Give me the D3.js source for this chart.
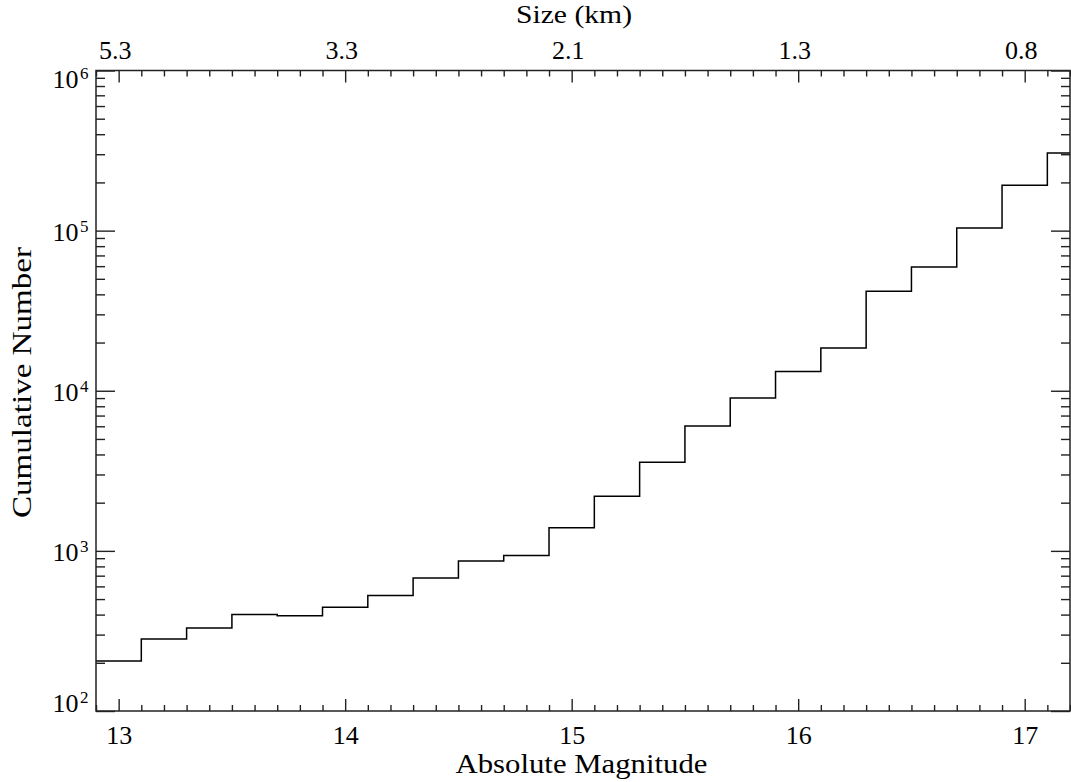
<!DOCTYPE html>
<html>
<head>
<meta charset="utf-8">
<script src="https://cdn.jsdelivr.net/npm/d3@7"></script>
<style>
  body { margin: 0; background: #fff; }
  svg text { font-family: "Liberation Serif", Times, "Times New Roman", serif; fill: #000; }
</style>
</head>
<body>
<div id="container"></div>
<script>
// absolute magnitude bins (centres) and cumulative counts
const magnitudes = [13.0, 13.2, 13.4, 13.6, 13.8, 14.0, 14.2, 14.4, 14.6, 14.8, 15.0,
                    15.2, 15.4, 15.6, 15.8, 16.0, 16.2, 16.4, 16.6, 16.8, 17.0, 17.2];
const counts = [205, 282, 330, 401, 393, 444, 527, 676, 863, 937, 1393,
                2196, 3579, 6031, 9020, 13180, 18500, 41780, 59240, 103800, 191700, 304800];

const magTicks = [13, 14, 15, 16, 17];
const sizeLabels = ["5.3", "3.3", "2.1", "1.3", "0.8"];
const decades = [1e2, 1e3, 1e4, 1e5, 1e6];

const width = 1071;
const height = 782;
const margin = ({ top: 70.5, right: 1, bottom: 71, left: 96 });
const binHalf = 0.1;
const serif = '"Liberation Serif", Times, "Times New Roman", serif';

let x = d3.scaleLinear()
    .domain([12.9, 17.2])
    .range([margin.left, width - margin.right]);

let y = d3.scaleLog()
    .domain([1e2, 1e6])
    .range([height - margin.bottom, margin.top]);

let minorX = d3.range(129, 173).map(d => d / 10).filter(d => !magTicks.includes(d));
let minorY = y.ticks().filter(d => !decades.includes(d));

let svg = d3.select("#container").append("svg")
    .attr("width", width)
    .attr("height", height)
    .style("font-family", serif);

svg.append("defs").append("clipPath").attr("id", "clip")
    .append("rect")
    .attr("x", margin.left).attr("y", margin.top)
    .attr("width", x.range()[1] - margin.left)
    .attr("height", y.range()[0] - margin.top);

// histogram-style steps
let values = magnitudes.map((m, i) => ({ x: m, y: counts[i] }));
let stepped = [{ x: magnitudes[0] - binHalf, y: counts[0] }]
    .concat(values)
    .concat([{ x: magnitudes[magnitudes.length - 1] + binHalf, y: counts[counts.length - 1] }]);

let line = d3.line()
    .curve(d3.curveStep)
    .x(d => x(d.x))
    .y(d => y(d.y));

svg.append("path")
    .attr("clip-path", "url(#clip)")
    .attr("fill", "none")
    .attr("stroke", "#000")
    .attr("stroke-width", 1.5)
    .attr("d", line(stepped));

let styleAxis = g => {
    g.attr("font-family", null);
    g.select(".domain").remove();
    g.selectAll(".tick line").attr("stroke", "#222").attr("stroke-width", 1.4);
    g.selectAll(".tick text").attr("font-size", 26).style("font-family", serif);
};

let yB = y.range()[0];
let yT = y.range()[1];
let xL = x.range()[0];
let xR = x.range()[1];

// bottom axis
svg.append("g")
    .attr("transform", `translate(0,${yB})`)
    .call(d3.axisBottom(x).tickValues(magTicks).tickFormat(d3.format("d"))
        .tickSizeInner(-12).tickSizeOuter(0).tickPadding(15))
    .call(styleAxis);
svg.append("g")
    .attr("transform", `translate(0,${yB})`)
    .call(d3.axisBottom(x).tickValues(minorX).tickFormat("")
        .tickSizeInner(-6).tickSizeOuter(0))
    .call(styleAxis);

// top axis (size in km)
svg.append("g")
    .attr("transform", `translate(0,${yT})`)
    .call(d3.axisTop(x).tickValues(magTicks).tickFormat((d, i) => sizeLabels[i])
        .tickSizeInner(-12).tickSizeOuter(0).tickPadding(12))
    .call(styleAxis)
    .call(g => g.selectAll(".tick text").attr("dx", -4));
svg.append("g")
    .attr("transform", `translate(0,${yT})`)
    .call(d3.axisTop(x).tickValues(minorX).tickFormat("")
        .tickSizeInner(-6).tickSizeOuter(0))
    .call(styleAxis);

// left axis
let leftAxis = svg.append("g")
    .attr("transform", `translate(${xL},0)`)
    .call(d3.axisLeft(y).tickValues(decades).tickFormat("")
        .tickSizeInner(-19).tickSizeOuter(0))
    .call(styleAxis);
svg.append("g")
    .attr("transform", `translate(${xL},0)`)
    .call(d3.axisLeft(y).tickValues(minorY).tickFormat("")
        .tickSizeInner(-9).tickSizeOuter(0))
    .call(styleAxis);

leftAxis.selectAll(".tick").each(function (d) {
    let e = Math.round(Math.log10(d));
    let base = 9.5;
    if (e === 6) base = 16.5;
    if (e === 2) base = 0.7;
    let g = d3.select(this);
    g.append("text")
        .attr("x", -17.5)
        .attr("y", base)
        .attr("text-anchor", "end")
        .attr("font-size", 26)
        .style("font-family", serif)
        .text("10");
    g.append("text")
        .attr("x", -16)
        .attr("y", base - 9)
        .attr("text-anchor", "start")
        .attr("font-size", 17)
        .style("font-family", serif)
        .text(e);
});

// right axis
svg.append("g")
    .attr("transform", `translate(${xR},0)`)
    .call(d3.axisRight(y).tickValues(decades).tickFormat("")
        .tickSizeInner(-19).tickSizeOuter(0))
    .call(styleAxis);
svg.append("g")
    .attr("transform", `translate(${xR},0)`)
    .call(d3.axisRight(y).tickValues(minorY).tickFormat("")
        .tickSizeInner(-9).tickSizeOuter(0))
    .call(styleAxis);

// frame
svg.append("rect")
    .attr("x", xL).attr("y", yT)
    .attr("width", xR - xL).attr("height", yB - yT)
    .attr("fill", "none")
    .attr("stroke", "#222")
    .attr("stroke-width", 1.5);

// titles
svg.append("text")
    .attr("x", 581.5).attr("y", 773)
    .attr("text-anchor", "middle")
    .attr("font-size", 27)
    .attr("textLength", 252)
    .attr("lengthAdjust", "spacingAndGlyphs")
    .style("font-family", serif)
    .text("Absolute Magnitude");

svg.append("text")
    .attr("x", 574).attr("y", 23)
    .attr("text-anchor", "middle")
    .attr("font-size", 26)
    .attr("textLength", 116)
    .attr("lengthAdjust", "spacingAndGlyphs")
    .style("font-family", serif)
    .text("Size (km)");

svg.append("text")
    .attr("transform", "translate(31,382.5) rotate(-90)")
    .attr("text-anchor", "middle")
    .attr("font-size", 28)
    .attr("textLength", 271)
    .attr("lengthAdjust", "spacingAndGlyphs")
    .style("font-family", serif)
    .text("Cumulative Number");
</script>
</body>
</html>
